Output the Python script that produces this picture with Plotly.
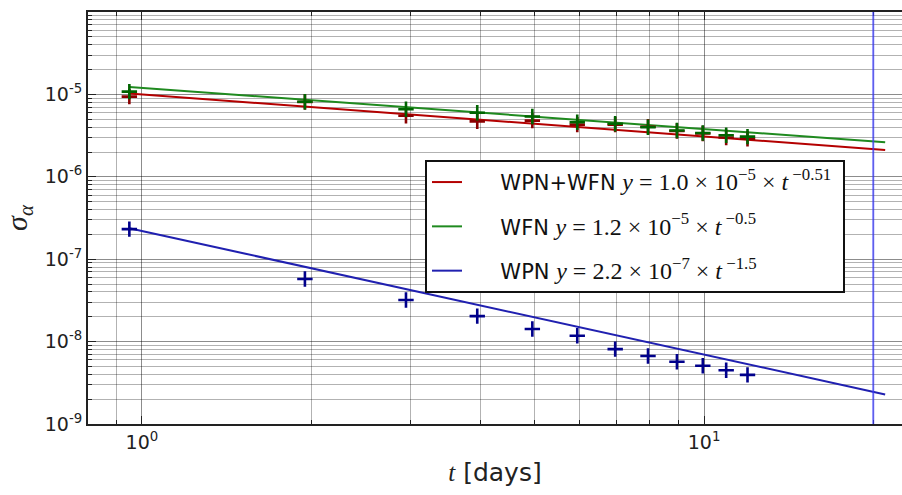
import numpy as np
import plotly.graph_objects as go

# Averaging times (days) at which sigma_alpha was evaluated
t_days = [0.95, 1.95, 2.95, 3.95, 4.95, 5.95, 6.95, 7.95, 8.95, 9.95, 10.95, 11.95]

# Measured deviations for each noise model
sigma_wpn_wfn = [9.4e-6, 8.1e-6, 5.5e-6, 4.7e-6, 4.8e-6, 4.3e-6, 4.3e-6, 4.05e-6,
                 3.6e-6, 3.35e-6, 3.0e-6, 2.9e-6]
sigma_wfn = [1.08e-5, 8.15e-6, 6.6e-6, 6.0e-6, 5.4e-6, 4.6e-6, 4.4e-6, 4.0e-6,
             3.65e-6, 3.4e-6, 3.2e-6, 3.07e-6]
sigma_wpn = [2.32e-7, 5.75e-8, 3.2e-8, 2.04e-8, 1.42e-8, 1.18e-8, 8.1e-9, 6.7e-9,
             5.7e-9, 5.1e-9, 4.5e-9, 3.95e-9]

# Power-law fits y = a * t^b
fit_names = ["WPN+WFN", "WFN", "WPN"]
fit_coef = [1.0e-5, 1.2e-5, 2.2e-7]
fit_mant = ["1.0", "1.2", "2.2"]
fit_exp10 = [-5, -5, -7]
fit_power = [-0.51, -0.5, -1.5]
fit_t_span = [0.95, 21.0]

# Reference epoch marker (days)
t_marker = 20.0

point_colors = ["#8b0000", "#006400", "#00008b"]
line_colors = ["#b40000", "#1f8a1f", "#2020b0"]

fig = go.Figure()

NB = "\u00a0"
t_fit = np.geomspace(fit_t_span[0], fit_t_span[1], 50)
for i, (name, a, b) in enumerate(zip(fit_names, fit_coef, fit_power)):
    b_txt = f"{b:g}".replace("-", "−")
    e_txt = str(fit_exp10[i]).replace("-", "−")
    label = (f"{NB * 5}{name} <span style='font-family:Liberation Serif;font-size:24px'>"
             f"<i>y</i>{NB}={NB}{fit_mant[i]}{NB}×{NB}10<sup>{e_txt}</sup>{NB}×{NB}"
             f"<i>t</i><sup>{NB}{b_txt}</sup>{NB}</span>")
    fig.add_trace(go.Scatter(
        x=t_fit, y=a * t_fit ** b, mode="lines",
        line=dict(color=line_colors[i], width=2),
        name=label, legendgroup=f"g{i}", hoverinfo="skip"))

for vals, col in zip([sigma_wpn_wfn, sigma_wfn, sigma_wpn], point_colors):
    fig.add_trace(go.Scatter(
        x=t_days, y=vals, mode="markers", showlegend=False,
        marker=dict(symbol="cross-thin", size=11, line=dict(color=col, width=2.6))))

fig.add_vline(x=t_marker, line=dict(color="rgba(60,60,255,0.7)", width=2))

minor_x = [0.9] + list(range(2, 10)) + [20]
minor_y = [m * 10.0 ** e for e in range(-9, -4) for m in range(2, 10)]
grid_major = "rgba(0,0,0,0.45)"
grid_minor = "rgba(0,0,0,0.3)"

fig.update_xaxes(
    type="log", range=[np.log10(0.802), np.log10(22.5)],
    tickvals=[1, 10], ticktext=["10<sup>0</sup>", "10<sup>1</sup>"],
    showline=True, linecolor="#222", linewidth=2, mirror="ticks",
    ticks="inside", ticklen=8, tickcolor="#222",
    showgrid=True, gridcolor=grid_major, gridwidth=1,
    minor=dict(tickvals=minor_x, ticks="inside", ticklen=4, tickcolor="#222",
               showgrid=True, gridcolor=grid_minor, gridwidth=1),
    tickfont=dict(family="DejaVu Sans", size=19, color="#222"),
    title=dict(text="<span style='font-family:Liberation Serif'><i>t</i></span> [days]",
               font=dict(family="DejaVu Sans", size=25, color="#222"), standoff=12),
    zeroline=False,
)
fig.update_yaxes(
    type="log", range=[-9, -4],
    tickvals=[1e-9, 1e-8, 1e-7, 1e-6, 1e-5, 1e-4],
    ticktext=[f"10<sup>-{k}</sup>" for k in [9, 8, 7, 6, 5, 4]],
    showline=True, linecolor="#222", linewidth=2, mirror=False,
    ticks="inside", ticklen=8, tickcolor="#222",
    showgrid=True, gridcolor=grid_major, gridwidth=1,
    minor=dict(tickvals=minor_y, ticks="inside", ticklen=4, tickcolor="#222",
               showgrid=True, gridcolor=grid_minor, gridwidth=1),
    tickfont=dict(family="DejaVu Sans", size=19, color="#222"),
    title=dict(text="<i>σ</i><sub><i>α</i></sub>",
               font=dict(family="Liberation Serif", size=30, color="#222"), standoff=16),
    zeroline=False,
)

fig.update_layout(
    width=902, height=495,
    margin=dict(l=88, r=0, t=12, b=71),
    paper_bgcolor="white", plot_bgcolor="white",
    showlegend=True,
    legend=dict(
        x=0.414, y=0.641, xanchor="left", yanchor="top",
        bgcolor="white", bordercolor="#111", borderwidth=2,
        font=dict(family="DejaVu Sans", size=21, color="#111"),
        tracegroupgap=14,
    ),
)

fig.write_html("out.html")
